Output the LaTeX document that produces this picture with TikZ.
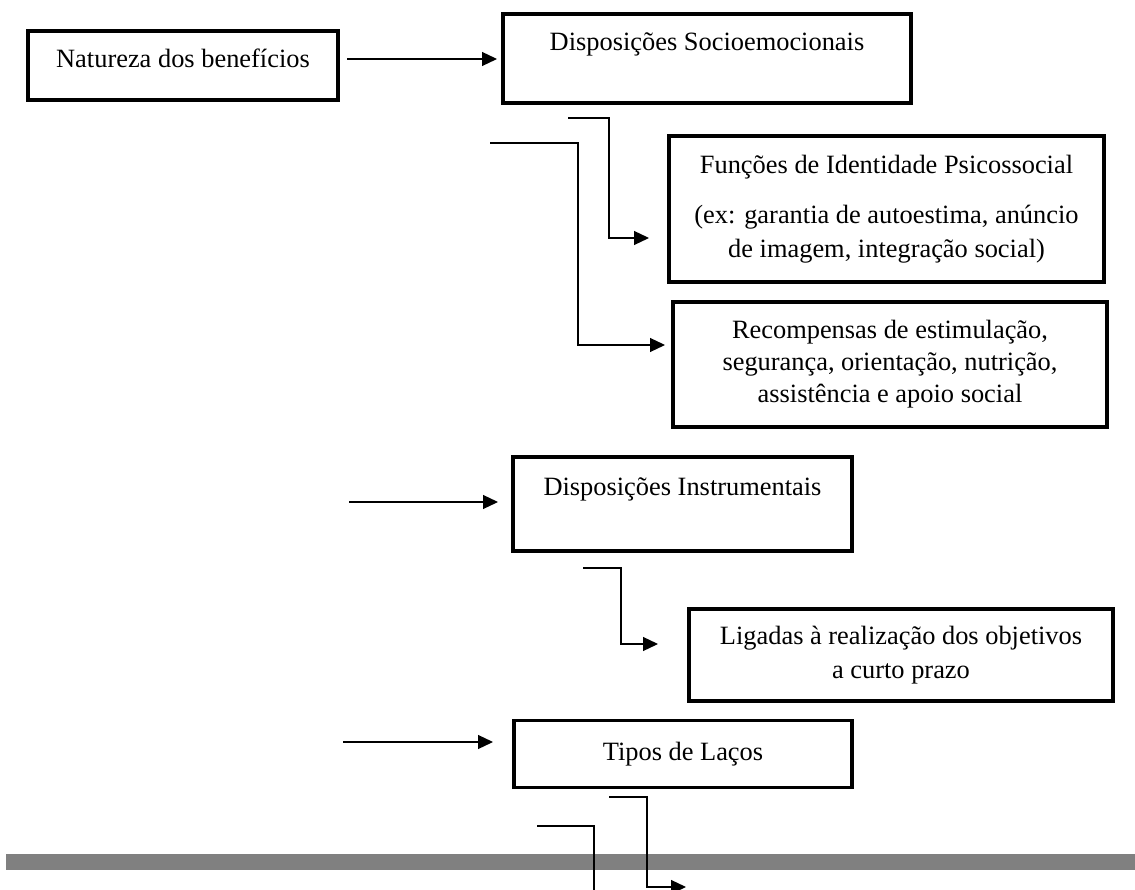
\documentclass[tikz,border=0pt]{standalone}
\usepackage{fontspec}
\setmainfont{Liberation Serif}
\usetikzlibrary{arrows.meta}
\definecolor{bargray}{HTML}{808080}
\begin{document}
\begin{tikzpicture}[x=1pt,y=-1pt,
  box/.style={draw,line width=3.5pt,inner sep=0pt,outer sep=0pt,align=center,
    font=\fontsize{26.4}{34}\selectfont},
  conn/.style={line width=1.2pt},
  arr/.style={line width=1.2pt,-{Triangle[length=15pt,width=14pt]}}]
\useasboundingbox (0,0) rectangle (1135,890);
\clip (0,0) rectangle (1135,890);

% separator bar near the bottom
\fill[bargray] (6,854) rectangle (1135,870);

% boxes
\node[box,minimum width=310,minimum height=69,text depth=14pt] (nat) at (183,65.5) {Natureza dos benefícios};
\node[box,minimum width=408,minimum height=89] (soc) at (707,58.5) {Disposições Socioemocionais\\ \mbox{}};
\node[box,minimum width=435,minimum height=146] (fun) at (886.5,209)
  {Funções de Identidade Psicossocial\\[16pt](ex: garantia de autoestima, anúncio\\de imagem, integração social)};
\node[box,minimum width=434,minimum height=125,
  font=\fontsize{26.4}{32}\selectfont] (rec) at (890,364.5)
  {\raisebox{-4pt}{\parbox{420pt}{\centering Recompensas de estimulação,\\segurança, orientação, nutrição,\\assistência e apoio social}}};
\node[box,minimum width=339,minimum height=94] (ins) at (682.5,504) {Disposições Instrumentais\\ \mbox{}};
\node[box,minimum width=424,minimum height=92] (lig) at (901,655)
  {Ligadas à realização dos objetivos\\a curto prazo};
\node[box,minimum width=338,minimum height=67] (tip) at (683,754) {Tipos de Laços};

% free ends of the connectors
\coordinate (a1s) at (347,59);
\coordinate (a2s) at (349,502);
\coordinate (a3s) at (343,742);
\coordinate (c1s) at (568,118);
\coordinate (c1k) at (609,238);
\coordinate (c2s) at (490,143);
\coordinate (c2k) at (578,345);
\coordinate (c3s) at (583,568);
\coordinate (c3k) at (621,644);
\coordinate (c4s) at (609,797);
\coordinate (c4k) at (647,887);
\coordinate (c4e) at (686,887);
\coordinate (c5s) at (537,826);
\coordinate (c5e) at (594,895);

% straight arrows
\draw[arr,shorten >=6pt] (a1s) -- (a1s -| soc.west);
\draw[arr,shorten >=15pt] (a2s) -- (a2s -| ins.west);
\draw[arr,shorten >=21pt] (a3s) -- (a3s -| tip.west);

% elbow connectors
\draw[arr,shorten >=20pt] (c1s) -| (c1k) -- (c1k -| fun.west);
\draw[arr,shorten >=8pt] (c2s) -| (c2k) -- (c2k -| rec.west);
\draw[arr,shorten >=31pt] (c3s) -| (c3k) -- (c3k -| lig.west);
\draw[arr] (c4s) -| (c4k) -- (c4e);
\draw[conn] (c5s) -| (c5e);
\end{tikzpicture}
\end{document}
